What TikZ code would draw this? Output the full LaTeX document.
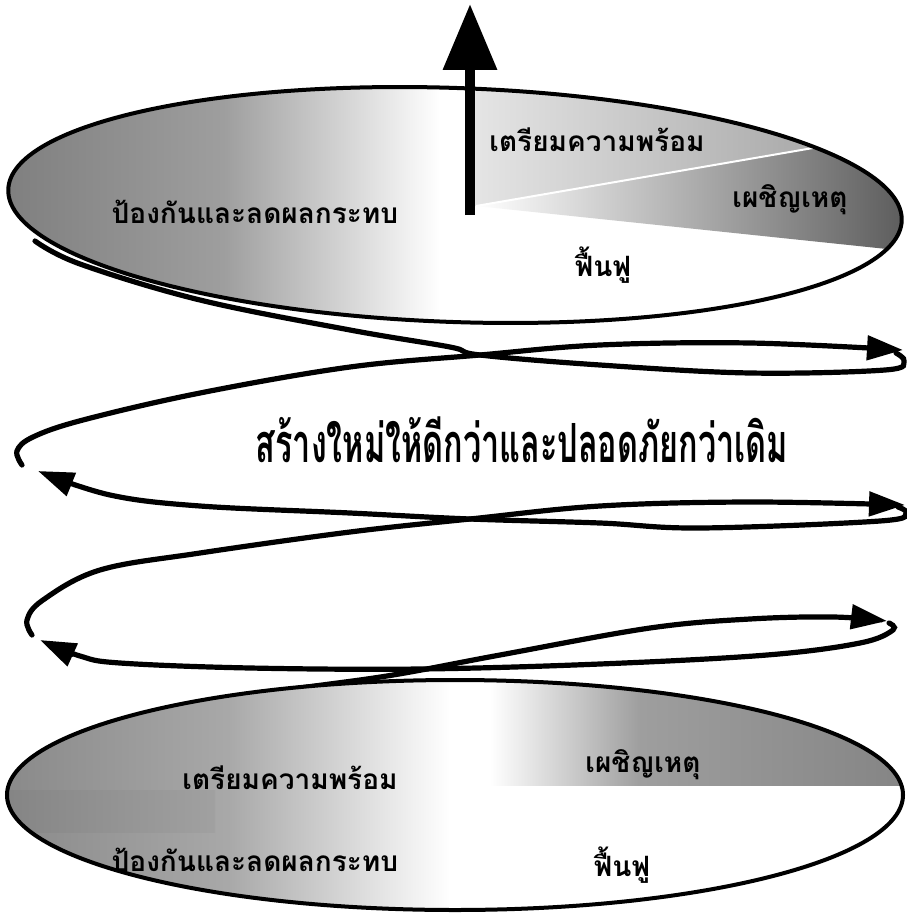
\documentclass[tikz,border=0pt]{standalone}
\usepackage{fontspec}
\newfontfamily\thaifont[Script=Thai]{Loma}
\usetikzlibrary{arrows.meta}

\begin{document}
\begin{tikzpicture}[x=.5pt,y=-.5pt,font=\thaifont\bfseries,
  rim/.style={draw=black,line width=2pt},
  coil/.style={line width=2.6pt,line cap=round},
  coilarrow/.style={coil,-{Triangle[length=18pt,width=12pt]}},
  disklabel/.style={font=\thaifont\bfseries\fontsize{14}{16}\selectfont,inner sep=0pt}]
\useasboundingbox (0,0) rectangle (906,915);
\coordinate (hub) at (470,215);
\coordinate (pole) at (470,4);
\coordinate (apex) at (476,206);
% coil between the two disks, drawn first
\draw[coil] plot[smooth,tension=.6] coordinates {(896,353) (904,361) (885,370) (750,373) (600,365) (480,355) (450,347) (350,330) (200,300) (80,264) (35,241)};
\draw[coilarrow] plot[smooth,tension=.6] coordinates {(22,465) (17,451) (33,437) (83,420) (200,393) (350,367) (480,355) (600,345) (750,343) (903,350)};
\draw[coilarrow] plot[smooth,tension=.6] coordinates {(898,507) (906,513) (880,521) (700,528) (600,523) (470,519) (350,513) (200,506) (110,495) (38,471)};
\draw[coilarrow] plot[smooth,tension=.6] coordinates {(32,635) (27,620) (43,600) (100,570) (200,553) (350,532) (470,519) (600,506) (750,502) (905,505)};
\draw[coilarrow] plot[smooth,tension=.6] coordinates {(889,623) (893,630) (860,643) (767,655) (600,664) (420,669) (250,668) (120,663) (80,656) (40,640)};
\draw[coilarrow] plot[smooth,tension=.6] coordinates {(150,712) (200,702) (300,688) (393,675) (500,655) (650,628) (750,619) (833,617) (887,621)};
% top disk
\begin{scope}
\clip[rotate around={-2:(455,205)}] (455,205) ellipse [x radius=447,y radius=117];
\fill[white] (0,80) rectangle (906,330);
\shade[left color=black!50,right color=white,middle color=black!38] (8,80) rectangle (440,330);
\shade[left color=black!10,right color=black!40] (470,80) -- (906,80) -- (906,132) -- (apex) -- (470,206) -- cycle;
\shade[left color=white,right color=black!64] (apex) -- (906,132) -- (906,251) -- cycle;
\draw[white,line width=1pt] (apex) -- (906,132);
\end{scope}
\draw[rim,rotate around={-2:(455,205)}] (455,205) ellipse [x radius=447,y radius=117];
\draw[line width=5pt,-{Triangle[length=33pt,width=26pt]}] (hub) -- (pole);
\node[disklabel] (topprevent) at (255,212) {ป้องกันและลดผลกระทบ};
\node[disklabel] (topprepare) at (597,140) {เตรียมความพร้อม};
\node[disklabel] (toprespond) at (790,200) {เผชิญเหตุ};
\node[disklabel] (toprecover) at (603,265) {ฟื้นฟู};
% bottom disk
\begin{scope}
\clip (455,795) ellipse [x radius=448,y radius=115];
\fill[white] (0,675) rectangle (906,915);
\shade[left color=black!46,right color=white,middle color=black!34] (7,675) rectangle (450,915);
\shade[left color=black!48,right color=black!37] (7,790) rectangle (215,832);
\shade[left color=white,right color=black!38] (490,675) rectangle (640,785);
\shade[left color=black!38,right color=black!48] (640,675) rectangle (906,785);
\end{scope}
\draw[rim] (455,795) ellipse [x radius=448,y radius=115];
\node[disklabel] (botprepare) at (290,778) {เตรียมความพร้อม};
\node[disklabel] (botrespond) at (643,765) {เผชิญเหตุ};
\node[disklabel] (botprevent) at (255,860) {ป้องกันและลดผลกระทบ};
\node[disklabel] (botrecover) at (622,865) {ฟื้นฟู};
% motto in the middle of the coil
\node[font=\thaifont\bfseries\fontsize{27}{31}\selectfont] (motto) at (522,440) {\scalebox{.6}[1]{สร้างใหม่ให้ดีกว่าและปลอดภัยกว่าเดิม}};
\end{tikzpicture}
\end{document}
